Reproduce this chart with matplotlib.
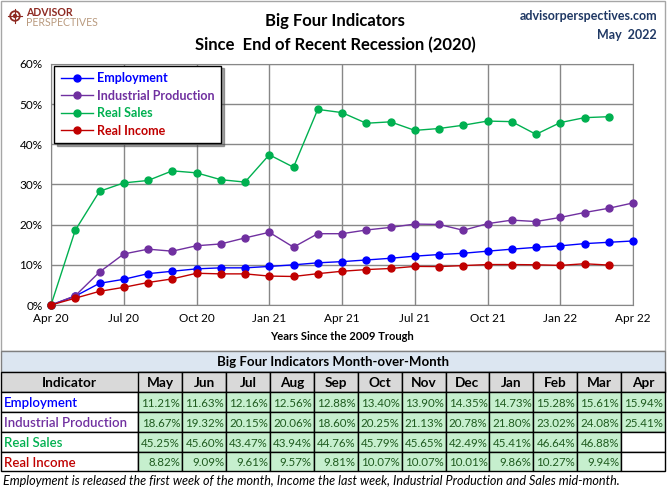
import numpy as np
import matplotlib
matplotlib.use('Agg')
import matplotlib.pyplot as plt
from matplotlib.patches import Rectangle, Circle

plt.rcParams['font.family'] = ['Lato', 'DejaVu Sans']

# months since the April 2020 trough
x_ticks = [0, 3, 6, 9, 12, 15, 18, 21, 24]
x_tick_labels = ['Apr 20', 'Jul 20', 'Oct 20', 'Jan 21', 'Apr 21',
                 'Jul 21', 'Oct 21', 'Jan 22', 'Apr 22']

employment = [0, 2.2, 5.4, 6.4, 7.8, 8.4, 9.0, 9.25, 9.25, 9.6, 10.0, 10.5, 10.8,
              11.21, 11.63, 12.16, 12.56, 12.88, 13.40, 13.90, 14.35, 14.73,
              15.28, 15.61, 15.94]
industrial = [0, 2.3, 8.2, 12.7, 13.9, 13.4, 14.75, 15.2, 16.7, 18.1, 14.4, 17.75,
              17.75, 18.67, 19.32, 20.15, 20.06, 18.60, 20.25, 21.13, 20.78, 21.80,
              23.02, 24.08, 25.41]
real_sales = [0, 18.6, 28.3, 30.4, 31.0, 33.4, 32.9, 31.2, 30.6, 37.4, 34.3, 48.7,
              47.9, 45.25, 45.60, 43.47, 43.94, 44.76, 45.79, 45.65, 42.49, 45.41,
              46.64, 46.88]
real_income = [0, 1.7, 3.4, 4.4, 5.6, 6.5, 7.9, 7.75, 7.75, 7.2, 7.1, 7.8, 8.4,
               8.82, 9.09, 9.61, 9.57, 9.81, 10.07, 10.07, 10.01, 9.86, 10.27, 9.94]

table_months = ['May', 'Jun', 'Jul', 'Aug', 'Sep', 'Oct', 'Nov', 'Dec',
                'Jan', 'Feb', 'Mar', 'Apr']

series = [
    ('Employment', employment, '#0000ff'),
    ('Industrial Production', industrial, '#7030a0'),
    ('Real Sales', real_sales, '#00b050'),
    ('Real Income', real_income, '#c00000'),
]

W, H = 667, 488
fig = plt.figure(figsize=(W / 100, H / 100), dpi=100)

# overlay in pixel coords for frame, header text and table
ov = fig.add_axes([0, 0, 1, 1], zorder=0)
ov.set_xlim(0, W)
ov.set_ylim(H, 0)
ov.axis('off')

grid_c = '#878787'

# chart frame
ov.add_patch(Rectangle((1, 1), 664, 350, fill=False, ec='#a6a6a6', lw=1))

# logo
logo_c = '#8e2a22'
ov.add_patch(Circle((15, 16), 4.8, fc='none', ec=logo_c, lw=1.3))
ov.add_patch(Circle((15, 16), 2.2, fc=logo_c, ec='none'))
ov.plot([15, 15], [9, 23], color=logo_c, lw=0.8)
ov.plot([8, 22], [16, 16], color=logo_c, lw=0.8)
ov.text(26, 16, 'ADVISOR', fontsize=7.6, fontweight='bold', color=logo_c,
        ha='left', va='baseline')
ov.text(26, 17.5, 'PERSPECTIVES', fontsize=7.6, color='#b99a7e',
        ha='left', va='top')

ov.text(335, 21, 'Big Four Indicators', fontsize=12, fontweight='bold',
        ha='center', va='center')
ov.text(335, 45, 'Since  End of Recent Recession (2020)', fontsize=12,
        fontweight='bold', ha='center', va='center')
ov.text(657, 16, 'advisorperspectives.com', fontsize=9, fontweight='bold',
        color='#1f3864', ha='right', va='center')
ov.text(657, 35, 'May  2022', fontsize=9, fontweight='bold', color='#1f3864',
        ha='right', va='center')

# chart
left, right, top, bottom = 51, 633, 64, 305
ax = fig.add_axes([left / W, 1 - bottom / H, (right - left) / W, (bottom - top) / H],
                  zorder=2)
for name, vals, col in series:
    ax.plot(np.arange(len(vals)), vals, color=col, lw=1, marker='o',
            markersize=5, label=name, clip_on=False, zorder=3)

ax.set_xlim(0, 24)
ax.set_ylim(0, 60)
ax.set_xticks(x_ticks)
ax.set_xticklabels(x_tick_labels, fontsize=8.5)
ax.set_yticks(np.arange(0, 61, 10))
ax.set_yticklabels([f'{v}%' for v in range(0, 61, 10)], fontsize=8.5)
ax.tick_params(length=0, pad=6)
ax.grid(True, color=grid_c, lw=1)
ax.set_axisbelow(True)
for s in ax.spines.values():
    s.set_color(grid_c)
ax.set_xlabel('Years Since the 2009 Trough', fontsize=8, fontweight='bold',
              labelpad=5)

leg = ax.legend(loc='upper left', bbox_to_anchor=(0.006, 0.993), borderaxespad=0,
                fancybox=False, shadow=True, edgecolor='black', fontsize=9,
                handlelength=2.6, labelspacing=0.45, borderpad=0.5,
                handletextpad=0.3, framealpha=1)
leg.get_frame().set_linewidth(1)
for txt, (_, _, col) in zip(leg.get_texts(), series):
    txt.set_color(col)
    txt.set_fontweight('bold')

# table
tx0, tx1 = 1, 665
col0 = 138.3
cw = (tx1 - col0) / len(table_months)
rows_y = [350.7, 372.3, 392.3, 412.3, 432.3, 452.3, 471]
line_c = 'black'

ov.add_patch(Rectangle((tx0, rows_y[0]), tx1 - tx0, rows_y[1] - rows_y[0],
                       fc='#dce6f1', ec='#7f7f7f', lw=1))
ov.text((tx0 + tx1) / 2, (rows_y[0] + rows_y[1]) / 2 + 1,
        'Big Four Indicators Month-over-Month', fontsize=9.5, fontweight='bold',
        ha='center', va='center')

ov.add_patch(Rectangle((tx0, rows_y[1]), tx1 - tx0, rows_y[2] - rows_y[1],
                       fc='#d9d9d9', ec=line_c, lw=1))
ov.text((tx0 + col0) / 2, (rows_y[1] + rows_y[2]) / 2 + 1, 'Indicator',
        fontsize=9.8, fontweight='bold', ha='center', va='center')
for j, m in enumerate(table_months):
    cx = col0 + j * cw
    ov.add_patch(Rectangle((cx, rows_y[1]), cw, rows_y[2] - rows_y[1],
                           fc='#d9d9d9', ec=line_c, lw=1))
    ov.text(cx + cw / 2, (rows_y[1] + rows_y[2]) / 2 + 1, m, fontsize=9.8,
            fontweight='bold', ha='center', va='center')

for i, (name, vals, col) in enumerate(series):
    y0, y1 = rows_y[i + 2], rows_y[i + 3]
    ov.add_patch(Rectangle((tx0, y0), col0 - tx0, y1 - y0, fc='white',
                           ec=line_c, lw=1))
    ov.text(tx0 + 3, (y0 + y1) / 2 + 1, name, fontsize=9.5, color=col,
            ha='left', va='center', fontweight='semibold')
    recent = vals[13:]
    for j in range(len(table_months)):
        cx = col0 + j * cw
        has = j < len(recent)
        ov.add_patch(Rectangle((cx, y0), cw, y1 - y0,
                               fc='#c6efce' if has else 'white', ec=line_c, lw=1))
        if has:
            ov.text(cx + cw - 2, (y0 + y1) / 2 + 1, f'{recent[j]:.2f}%',
                    fontsize=8.3, color='#1e5a1e', ha='right', va='center')

ov.text(3, 481, 'Employment is released the first week of the month, Income the last '
        'week, Industrial Production and Sales mid-month.', fontsize=9.1,
        style='italic', ha='left', va='center')

fig.savefig('out.png', dpi=100)
